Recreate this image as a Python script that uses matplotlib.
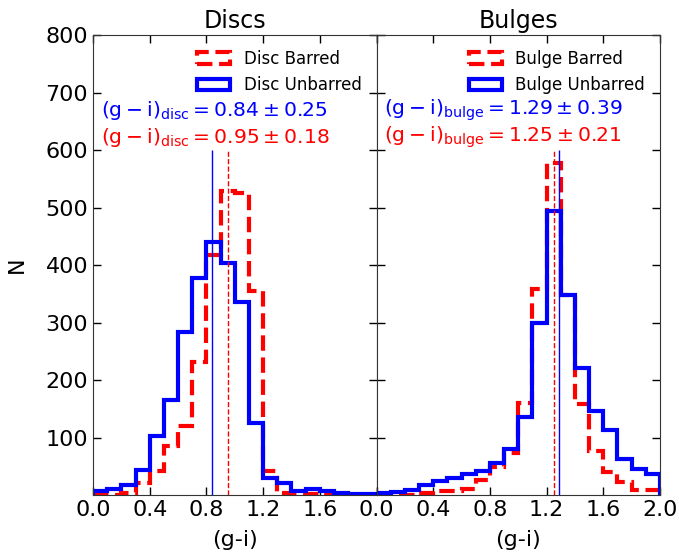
import numpy as np
import matplotlib
matplotlib.use("Agg")
import matplotlib.pyplot as plt

#%% datos (bins de 0.1 entre 0 y 2)
bordes = np.arange(0, 2.01, 0.1)
centros = bordes[:-1] + 0.05

disc_barred = [1, 1, 4, 22, 43, 85, 121, 232, 417, 529,
               526, 355, 43, 5, 2, 3, 4, 2, 1, 1]
disc_unbarred = [8, 11, 18, 44, 103, 166, 284, 378, 440, 404,
                 336, 125, 31, 21, 8, 11, 8, 4, 3, 3]
bulge_barred = [0, 0, 1, 4, 7, 7, 11, 26, 50, 73,
                161, 358, 577, 348, 158, 77, 40, 24, 9, 9]
bulge_unbarred = [4, 6, 10, 18, 25, 30, 37, 43, 56, 81,
                  137, 299, 495, 348, 222, 147, 114, 64, 46, 38]

media_disc = {"barred": (0.95, 0.18), "unbarred": (0.84, 0.25)}
media_bulge = {"barred": (1.25, 0.21), "unbarred": (1.29, 0.39)}

yticks = [100, 200, 300, 400, 500, 600, 700, 800]

#%% figura
fig, (ax1, ax2) = plt.subplots(1, 2, figsize=(6.79, 5.56), dpi=100, sharey=True)
fig.subplots_adjust(left=0.137, right=0.972, top=0.937, bottom=0.109, wspace=0)

paneles = [
    (ax1, "Discs", "Disc", "disc", disc_barred, disc_unbarred, media_disc),
    (ax2, "Bulges", "Bulge", "bulge", bulge_barred, bulge_unbarred, media_bulge),
]

for ax, titulo, nombre, sub, barred, unbarred, medias in paneles:
    ax.hist(centros, bins=bordes, weights=barred, histtype="step", color="red",
            ls="--", lw=3, label=f"{nombre} Barred")
    ax.hist(centros, bins=bordes, weights=unbarred, histtype="step", color="blue",
            lw=3, label=f"{nombre} Unbarred")
    mb, sb = medias["barred"]
    mu, su = medias["unbarred"]
    ax.vlines(mu, 0, 600, color="blue", lw=1)
    ax.vlines(mb, 0, 600, color="red", lw=1, ls="--")
    ax.text(0.028, 0.837, r"$\mathrm{(g-i)_{%s}=%.2f\pm%.2f}$" % (sub, mu, su),
            transform=ax.transAxes, color="blue", fontsize=14.6, va="center")
    ax.text(0.028, 0.778, r"$\mathrm{(g-i)_{%s}=%.2f\pm%.2f}$" % (sub, mb, sb),
            transform=ax.transAxes, color="red", fontsize=14.6, va="center")
    ax.legend(loc="upper right", frameon=False, fontsize=12,
              bbox_to_anchor=(1.0, 1.0), handlelength=2.0)
    ax.set_title(titulo, fontsize=17, pad=5)
    ax.set_xlabel("(g-i)", fontsize=16, labelpad=7)
    ax.set_xlim(0, 2)
    ax.set_ylim(0, 800)
    ax.set_xticks([0.0, 0.4, 0.8, 1.2, 1.6, 2.0])
    ax.set_yticks(yticks)
    ax.tick_params(direction="in", top=True, right=True, length=6, width=1,
                   labelsize=16)
    for sp in ax.spines.values():
        sp.set_color("#333333")

ax1.set_xticklabels(["0.0", "0.4", "0.8", "1.2", "1.6", ""])
ax1.set_ylabel("N", fontsize=16, labelpad=13)
ax2.tick_params(labelleft=False)

plt.savefig("out.png", dpi=100)
